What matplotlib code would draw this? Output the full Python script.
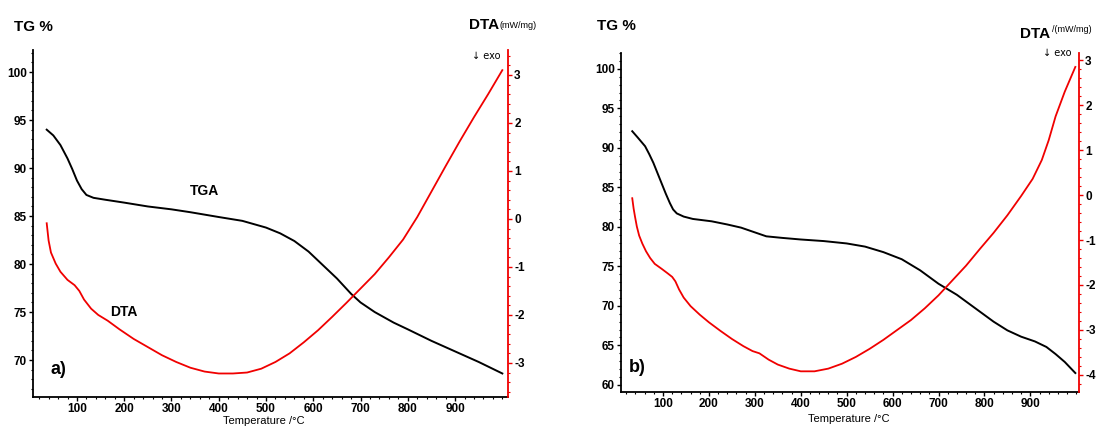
import matplotlib.pyplot as plt
from matplotlib.ticker import MultipleLocator

plt.rcParams['font.family'] = ['Liberation Sans Narrow', 'Liberation Sans', 'DejaVu Sans']
plt.rcParams['axes.unicode_minus'] = False

# panel a) - TG (%) and DTA (mW/mg) against temperature (°C)
temp_tg_a = [36, 50, 65, 80, 90, 100, 110, 120, 135, 160, 200, 250, 300, 340,
             400, 450, 500, 530, 560, 590, 620, 650, 680, 700, 730, 770, 800,
             850, 900, 950, 1000]
tg_a = [94.0, 93.4, 92.4, 91.0, 89.9, 88.7, 87.8, 87.2, 86.9, 86.7, 86.4, 86.0,
        85.7, 85.4, 84.9, 84.5, 83.8, 83.2, 82.4, 81.3, 79.9, 78.5, 76.9, 76.0,
        75.0, 73.9, 73.2, 72.0, 70.9, 69.8, 68.6]
temp_dta_a = [36, 40, 45, 55, 65, 80, 95, 105, 115, 130, 145, 165, 190, 220,
              250, 280, 310, 340, 370, 400, 430, 460, 490, 520, 550, 580, 610,
              640, 670, 700, 730, 760, 790, 820, 850, 880, 910, 940, 970, 1000]
dta_a = [-0.09, -0.45, -0.7, -0.93, -1.1, -1.27, -1.38, -1.5, -1.68, -1.87,
         -2.0, -2.12, -2.3, -2.5, -2.67, -2.84, -2.98, -3.1, -3.18, -3.22,
         -3.22, -3.2, -3.12, -2.98, -2.8, -2.57, -2.32, -2.04, -1.75, -1.45,
         -1.15, -0.8, -0.43, 0.04, 0.57, 1.1, 1.62, 2.12, 2.6, 3.1]

# panel b)
temp_tg_b = [33, 45, 61, 70, 79, 88, 97, 106, 115, 122, 130, 145, 165, 206, 240,
             270, 300, 325, 360, 400, 450, 500, 540, 580, 620, 660, 700, 740,
             780, 820, 850, 880, 910, 935, 955, 975, 998]
tg_b = [92.1, 91.3, 90.2, 89.2, 88.1, 86.8, 85.5, 84.2, 83.0, 82.2, 81.7, 81.3,
        81.0, 80.7, 80.3, 79.9, 79.3, 78.8, 78.6, 78.4, 78.2, 77.9, 77.5, 76.8,
        75.9, 74.5, 72.8, 71.4, 69.7, 68.0, 66.9, 66.1, 65.5, 64.8, 63.9, 62.9,
        61.5]
temp_dta_b = [33, 36, 39, 43, 48, 55, 63, 72, 82, 97, 110, 120, 127, 135, 145,
              160, 180, 200, 225, 250, 275, 295, 310, 330, 350, 375, 400, 430,
              460, 490, 520, 550, 580, 610, 640, 670, 700, 730, 760, 790, 820,
              850, 880, 905, 925, 940, 955, 975, 998]
dta_b = [-0.07, -0.3, -0.48, -0.7, -0.9, -1.08, -1.25, -1.4, -1.53, -1.64,
         -1.74, -1.82, -1.92, -2.1, -2.28, -2.47, -2.66, -2.83, -3.02, -3.2,
         -3.36, -3.47, -3.52, -3.66, -3.77, -3.86, -3.92, -3.92, -3.86, -3.75,
         -3.6, -3.42, -3.22, -3.0, -2.78, -2.52, -2.23, -1.9, -1.57, -1.2,
         -0.84, -0.45, -0.02, 0.36, 0.78, 1.22, 1.75, 2.3, 2.85]

temp_ticks = list(range(100, 1000, 100))
tg_ticks_a = [70, 75, 80, 85, 90, 95, 100]
tg_ticks_b = [60, 65, 70, 75, 80, 85, 90, 95, 100]
dta_ticks_a = [-3, -2, -1, 0, 1, 2, 3]
dta_ticks_b = [-4, -3, -2, -1, 0, 1, 2, 3]

fig = plt.figure(figsize=(11.13, 4.30), dpi=100)
W, H = 1113, 430


def fx(px):
    return px / W


def fy(py):
    return 1 - py / H


def panel(rect, xlim, ylim, ylim2, t1, tg, t2, dta, tg_ticks, dta_ticks):
    ax = fig.add_axes(rect)
    ax.plot(t1, tg, color='black', lw=1.4)
    ax.set_xlim(xlim)
    ax.set_ylim(ylim)
    ax.spines['top'].set_visible(False)
    ax.spines['right'].set_visible(False)
    ax.spines['left'].set_linewidth(1.3)
    ax.spines['bottom'].set_linewidth(1.3)
    ax.set_xticks(temp_ticks)
    ax.set_yticks(tg_ticks)
    ax.xaxis.set_minor_locator(MultipleLocator(20))
    ax.yaxis.set_minor_locator(MultipleLocator(1))
    ax.tick_params(which='major', length=3, width=1, labelsize=8.5, pad=1.5)
    ax.tick_params(which='minor', length=1.5, width=0.8)
    for lab in ax.get_xticklabels() + ax.get_yticklabels():
        lab.set_fontweight('bold')

    ax2 = ax.twinx()
    ax2.plot(t2, dta, color='#f00000', lw=1.3)
    ax2.set_ylim(ylim2)
    for s in ['top', 'left', 'bottom']:
        ax2.spines[s].set_visible(False)
    ax2.spines['right'].set_color('#f00000')
    ax2.spines['right'].set_linewidth(1.3)
    ax2.set_yticks(dta_ticks)
    ax2.yaxis.set_minor_locator(MultipleLocator(0.2))
    ax2.tick_params(axis='y', which='both', colors='#f00000', labelcolor='black')
    ax2.tick_params(axis='y', which='major', length=3, width=1, labelsize=8.5, pad=1.5)
    ax2.tick_params(axis='y', which='minor', length=1.5, width=0.8)
    for lab in ax2.get_yticklabels():
        lab.set_fontweight('bold')
    return ax, ax2


# a)
panel([fx(33), fy(397), fx(508) - fx(33), fy(50) - fy(397)],
      (7, 1012), (66.15, 102.3), (-3.71, 3.52),
      temp_tg_a, tg_a, temp_dta_a, dta_a, tg_ticks_a, dta_ticks_a)
# b)
panel([fx(621), fy(392), fx(1079) - fx(621), fy(53) - fy(392)],
      (8.5, 1006), (59.1, 102.0), (-4.38, 3.16),
      temp_tg_b, tg_b, temp_dta_b, dta_b, tg_ticks_b, dta_ticks_b)

bold = dict(fontweight='bold', ha='center', va='center')
fig.text(fx(33), fy(27), 'TG %', fontsize=11, **bold)
fig.text(fx(616), fy(26), 'TG %', fontsize=11, **bold)
fig.text(fx(484), fy(25), 'DTA', fontsize=11, **bold)
fig.text(fx(500), fy(26), '(mW/mg)', fontsize=6.5, ha='left', va='center')
fig.text(fx(1035), fy(34), 'DTA', fontsize=11, **bold)
fig.text(fx(1052), fy(30), '/(mW/mg)', fontsize=6.5, ha='left', va='center')
fig.text(fx(486), fy(56), '↓ exo', fontsize=7, ha='center', va='center',
         family=['Liberation Sans Narrow', 'DejaVu Sans'])
fig.text(fx(1057), fy(53), '↓ exo', fontsize=7, ha='center', va='center',
         family=['Liberation Sans Narrow', 'DejaVu Sans'])

fig.text(fx(205), fy(191), 'TGA', fontsize=10, **bold)
fig.text(fx(124), fy(312), 'DTA', fontsize=10, **bold)
fig.text(fx(58), fy(370), 'a)', fontsize=13, **bold)
fig.text(fx(637), fy(368), 'b)', fontsize=13, **bold)

fig.text(fx(264), fy(421), 'Temperature /°C', fontsize=8, ha='center', va='center')
fig.text(fx(849), fy(419), 'Temperature /°C', fontsize=8, ha='center', va='center')

fig.savefig('out.png', dpi=100)
